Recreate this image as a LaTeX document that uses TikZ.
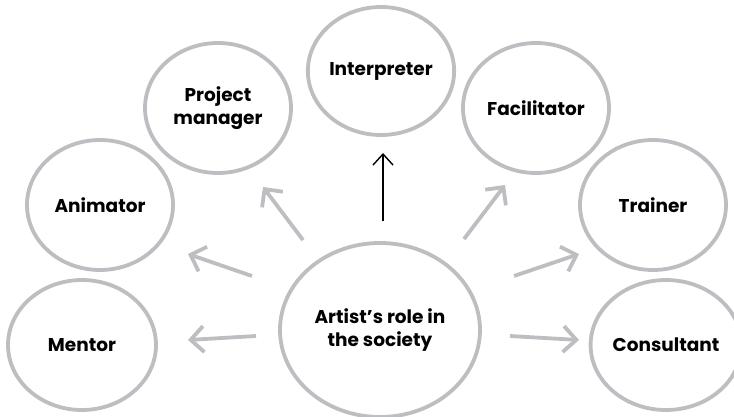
\documentclass[tikz,border=0pt]{standalone}
\usepackage{fontspec}
\setmainfont{Poppins}[BoldFont={* Bold}]
\usetikzlibrary{shapes.geometric,arrows.meta}
\definecolor{ringgray}{HTML}{BDBEC2}
\tikzset{
  role/.style={ellipse,draw=ringgray,line width=3.8pt,fill=white,
    font=\bfseries\fontsize{18.5}{23.5}\selectfont,align=center,inner sep=0pt},
  grayarrow/.style={draw=ringgray,line width=3.8pt,
    -{Straight Barb[length=13pt,width=26pt]}},
  blackarrow/.style={draw=black,line width=1.4pt,
    -{Straight Barb[length=11pt,width=20pt]}}
}
\begin{document}
\begin{tikzpicture}[x=1pt,y=-1pt]
\useasboundingbox (0,0) rectangle (734,417);
\node[role,minimum width=146pt,minimum height=130pt] (pm) at (218,108) {Project\\manager};
\node[role,minimum width=146pt,minimum height=128pt] (interp) at (381,71) {Interpreter};
\node[role,minimum width=146pt,minimum height=130pt] (facil) at (536,108) {Facilitator};
\node[role,minimum width=146pt,minimum height=130pt] (anim) at (100,205) {Animator};
\node[role,minimum width=146pt,minimum height=130pt] (train) at (653,205) {Trainer};
\node[role,minimum width=148pt,minimum height=130pt] (mentor) at (82,345) {Mentor};
\node[role,minimum width=140pt,minimum height=130pt] (cons) at (666,345) {Consultant};
\node[role,minimum width=200pt,minimum height=174pt] (artist) at (380,330) {Artist’s role in\\the society};
\coordinate (pmA) at (303,240); \coordinate (pmB) at (263,187);
\coordinate (anA) at (252,276); \coordinate (anB) at (188,254);
\coordinate (meA) at (256,336); \coordinate (meB) at (188,340);
\coordinate (faA) at (464,239); \coordinate (faB) at (505,185);
\coordinate (trA) at (514,276); \coordinate (trB) at (579,254);
\coordinate (coA) at (510,336); \coordinate (coB) at (579,340);
\coordinate (inA) at (383,221); \coordinate (inB) at (383,153);
\draw[grayarrow] (pmA) -- (pmB);
\draw[grayarrow] (anA) -- (anB);
\draw[grayarrow] (meA) -- (meB);
\draw[grayarrow] (faA) -- (faB);
\draw[grayarrow] (trA) -- (trB);
\draw[grayarrow] (coA) -- (coB);
\draw[blackarrow] (inA) -- (inB);
\end{tikzpicture}
\end{document}
